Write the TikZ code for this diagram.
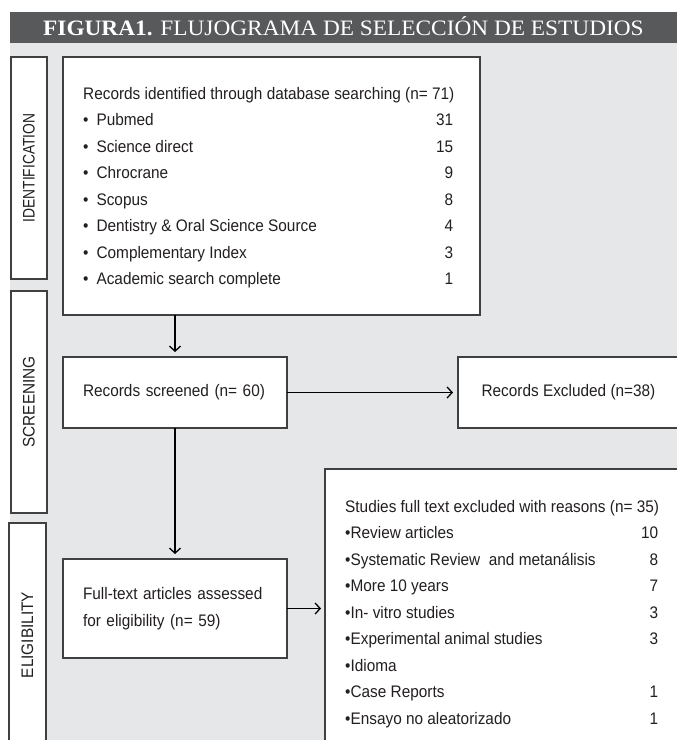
\documentclass[tikz,border=0pt]{standalone}
\usepackage{fontspec}
\usepackage{array}
\setmainfont{Liberation Serif}
\newfontfamily\hdrfont{Liberation Serif}[FakeStretch=1.06]
\newfontfamily\bodyfont{Liberation Sans}[FakeStretch=0.92]
\usetikzlibrary{arrows.meta}
\definecolor{bggray}{HTML}{E6E7E8}
\definecolor{hdrgray}{HTML}{58595B}
\definecolor{edge}{HTML}{404040}
\definecolor{ink}{HTML}{231F20}
\begin{document}
\begin{tikzpicture}[x=1pt,y=-1pt,
  box/.style={draw=edge, line width=1.3pt, fill=white, inner sep=0pt, outer sep=0pt, text=ink,
    font=\bodyfont\fontsize{16.7}{26.5}\selectfont},
  txt/.style={inner sep=0pt, text=ink, font=\bodyfont\fontsize{16.7}{26.5}\selectfont},
  arr/.style={draw=black, line width=1.3pt, -{Straight Barb[length=5pt,width=11pt]}, shorten >=5pt}
]
\useasboundingbox (0,0) rectangle (677,740);
\clip (0,0) rectangle (677,740);
% background and header
\fill[bggray] (10,43) rectangle (677,745);
\node[fill=hdrgray, minimum width=667pt, minimum height=31pt, anchor=north west, inner sep=0pt] (hdr) at (10,12) {};
\node[anchor=base west, text=white, inner sep=0pt, font=\hdrfont\fontsize{22}{24}\selectfont] (title) at (43,35)
  {\textbf{FIGURA1.} FLUJOGRAMA DE SELECCIÓN DE ESTUDIOS};
% stage labels
\node[box, rotate=90, minimum width=222pt, minimum height=36pt] (lid) at (29,168) {\scalebox{0.9}[1]{IDENTIFICATION}};
\node[box, rotate=90, minimum width=222pt, minimum height=36pt] (lscr) at (29,402) {SCREENING};
\node[box, rotate=90, minimum width=224pt, minimum height=37pt] (lel) at (27.5,635) {ELIGIBILITY};
% identification box
\node[box, anchor=north west, minimum width=417pt, minimum height=258pt] (id) at (63,57) {};
\node[txt, anchor=base west] (idtext) at (83,99) {%
\begin{tabular}[t]{@{}p{350pt}@{}>{\raggedleft\arraybackslash}p{20pt}@{}}
\multicolumn{2}{@{}l@{}}{Records identified through database searching (n= 71)}\\
•\hspace{8pt}Pubmed & 31\\
•\hspace{8pt}Science direct & 15\\
•\hspace{8pt}Chrocrane & 9\\
•\hspace{8pt}Scopus & 8\\
•\hspace{8pt}Dentistry \& Oral Science Source & 4\\
•\hspace{8pt}Complementary Index & 3\\
•\hspace{8pt}Academic search complete & 1
\end{tabular}};
% screening
\node[box, anchor=north west, minimum height=71pt, text width=184pt, inner xsep=20pt, align=left] (scr) at (63,357)
  {Records screened (n= 60)};
\node[box, anchor=north west, minimum width=221pt, minimum height=71pt] (rex) at (458,357)
  {Records Excluded (n=38)};
% eligibility
\node[box, anchor=north west, minimum height=99pt, text width=184pt, inner xsep=20pt, align=left] (full) at (63,559)
  {Full-text articles assessed\\for eligibility (n= 59)};
\node[box, anchor=north west, minimum width=370pt, minimum height=290pt] (exc) at (325,469) {};
\node[txt, anchor=base west] (exctext) at (345,512) {%
\begin{tabular}[t]{@{}p{293pt}@{}>{\raggedleft\arraybackslash}p{20pt}@{}}
\multicolumn{2}{@{}l@{}}{Studies full text excluded with reasons (n= 35)}\\
•Review articles & 10\\
•Systematic Review\ \ and metanálisis & 8\\
•More 10 years & 7\\
•In- vitro studies & 3\\
•Experimental animal studies & 3\\
•Idioma & \\
•Case Reports & 1\\
•Ensayo no aleatorizado & 1
\end{tabular}};
% connectors
\draw[arr] (scr.north |- id.south) -- (scr.north);
\draw[arr] (scr.east) -- (rex.west);
\draw[arr] (scr.south) -- (full.north);
\draw[arr, shorten >=4pt] (full.east) -- (full.east -| exc.west);
\end{tikzpicture}
\end{document}
